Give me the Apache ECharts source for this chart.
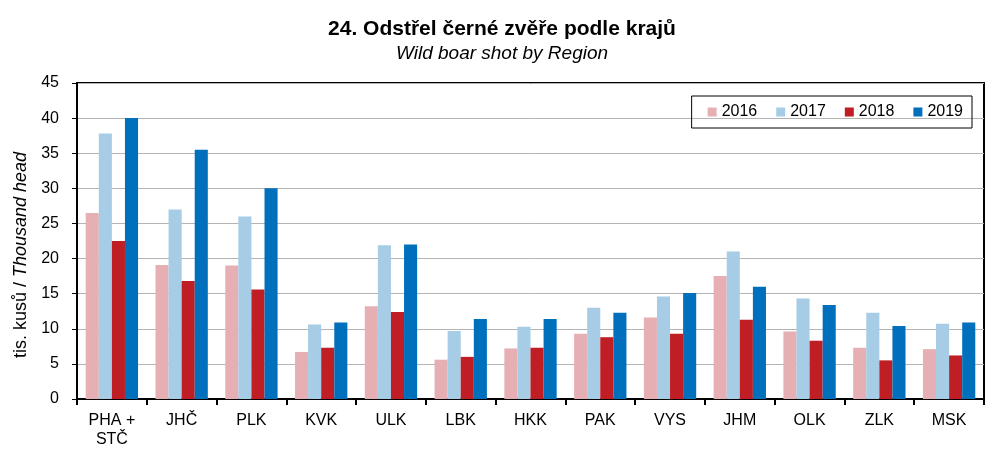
<!DOCTYPE html>
<html><head><meta charset="utf-8">
<script src="https://cdn.jsdelivr.net/npm/echarts@6/dist/echarts.min.js"></script>
<style>html,body{margin:0;padding:0;background:#fff}#c{width:1004px;height:462px}</style>
</head><body><div id="c"></div>
<script>
const categories = ['PHA +\nSTČ','JHČ','PLK','KVK','ULK','LBK','HKK','PAK','VYS','JHM','OLK','ZLK','MSK'];
const years = ['2016','2017','2018','2019'];
const v2016 = [26.5,19.1,19.0,6.7,13.2,5.6,7.2,9.3,11.6,17.5,9.6,7.3,7.1];
const v2017 = [37.8,27.0,26.0,10.6,21.9,9.7,10.3,13.0,14.6,21.0,14.3,12.3,10.7];
const v2018 = [22.5,16.8,15.6,7.3,12.4,6.0,7.3,8.8,9.3,11.3,8.3,5.5,6.2];
const v2019 = [40.0,35.5,30.0,10.9,22.0,11.4,11.4,12.3,15.1,16.0,13.4,10.4,10.9];
const colors = ['#E6AFB3','#A6CCE6','#BE1E24','#0070BC'];
const font = 'Liberation Sans, Arial, sans-serif';
const chart = echarts.init(document.getElementById('c'));
const vals = [v2016,v2017,v2018,v2019];
chart.setOption({
  animation:false,
  textStyle:{fontFamily:font},
  title:{
    text:'24. Odstřel černé zvěře podle krajů',
    subtext:'Wild boar shot by Region',
    left:'center', top:14, itemGap:4,
    textStyle:{fontFamily:font,fontSize:21,fontWeight:'bold',color:'#000'},
    subtextStyle:{fontFamily:font,fontSize:19,fontStyle:'italic',color:'#000'}
  },
  legend:{
    data:years, right:32, top:96,
    itemWidth:9, itemHeight:9, itemGap:19,
    icon:'rect',
    padding:[8,9,8,16],
    borderColor:'#000', borderWidth:1,
    textStyle:{fontFamily:font,fontSize:16,color:'#000'}
  },
  grid:{left:77,right:20,top:83,bottom:63,show:true,borderColor:'#000',borderWidth:2,backgroundColor:'transparent'},
  xAxis:{
    type:'category', data:categories,
    axisLine:{lineStyle:{color:'#000',width:2}},
    axisTick:{show:true,length:6,lineStyle:{color:'#000',width:2}},
    axisLabel:{color:'#000',fontSize:16,fontFamily:font,margin:12,lineHeight:19}
  },
  yAxis:{
    type:'value', min:0, max:45, interval:5,
    name:'{a|tis. kusů / }{b|Thousand head}',
    nameLocation:'middle', nameGap:35, nameRotate:90,
    nameTextStyle:{padding:[0,28,0,0],rich:{a:{fontFamily:font,fontSize:18,color:'#000'},b:{fontFamily:font,fontSize:18,fontStyle:'italic',color:'#000'}}},
    axisLine:{show:true,lineStyle:{color:'#000',width:2}},
    axisTick:{show:true,length:5,lineStyle:{color:'#000',width:1}},
    axisLabel:{color:'#000',fontSize:16,fontFamily:font,margin:18},
    splitLine:{lineStyle:{color:'#B4B4B4',width:1}}
  },
  series: years.map((y,i)=>({
    name:y, type:'bar', data:vals[i],
    barGap:'0%', barCategoryGap:'25%',
    itemStyle:{color:colors[i]}
  }))
});
</script></body></html>
